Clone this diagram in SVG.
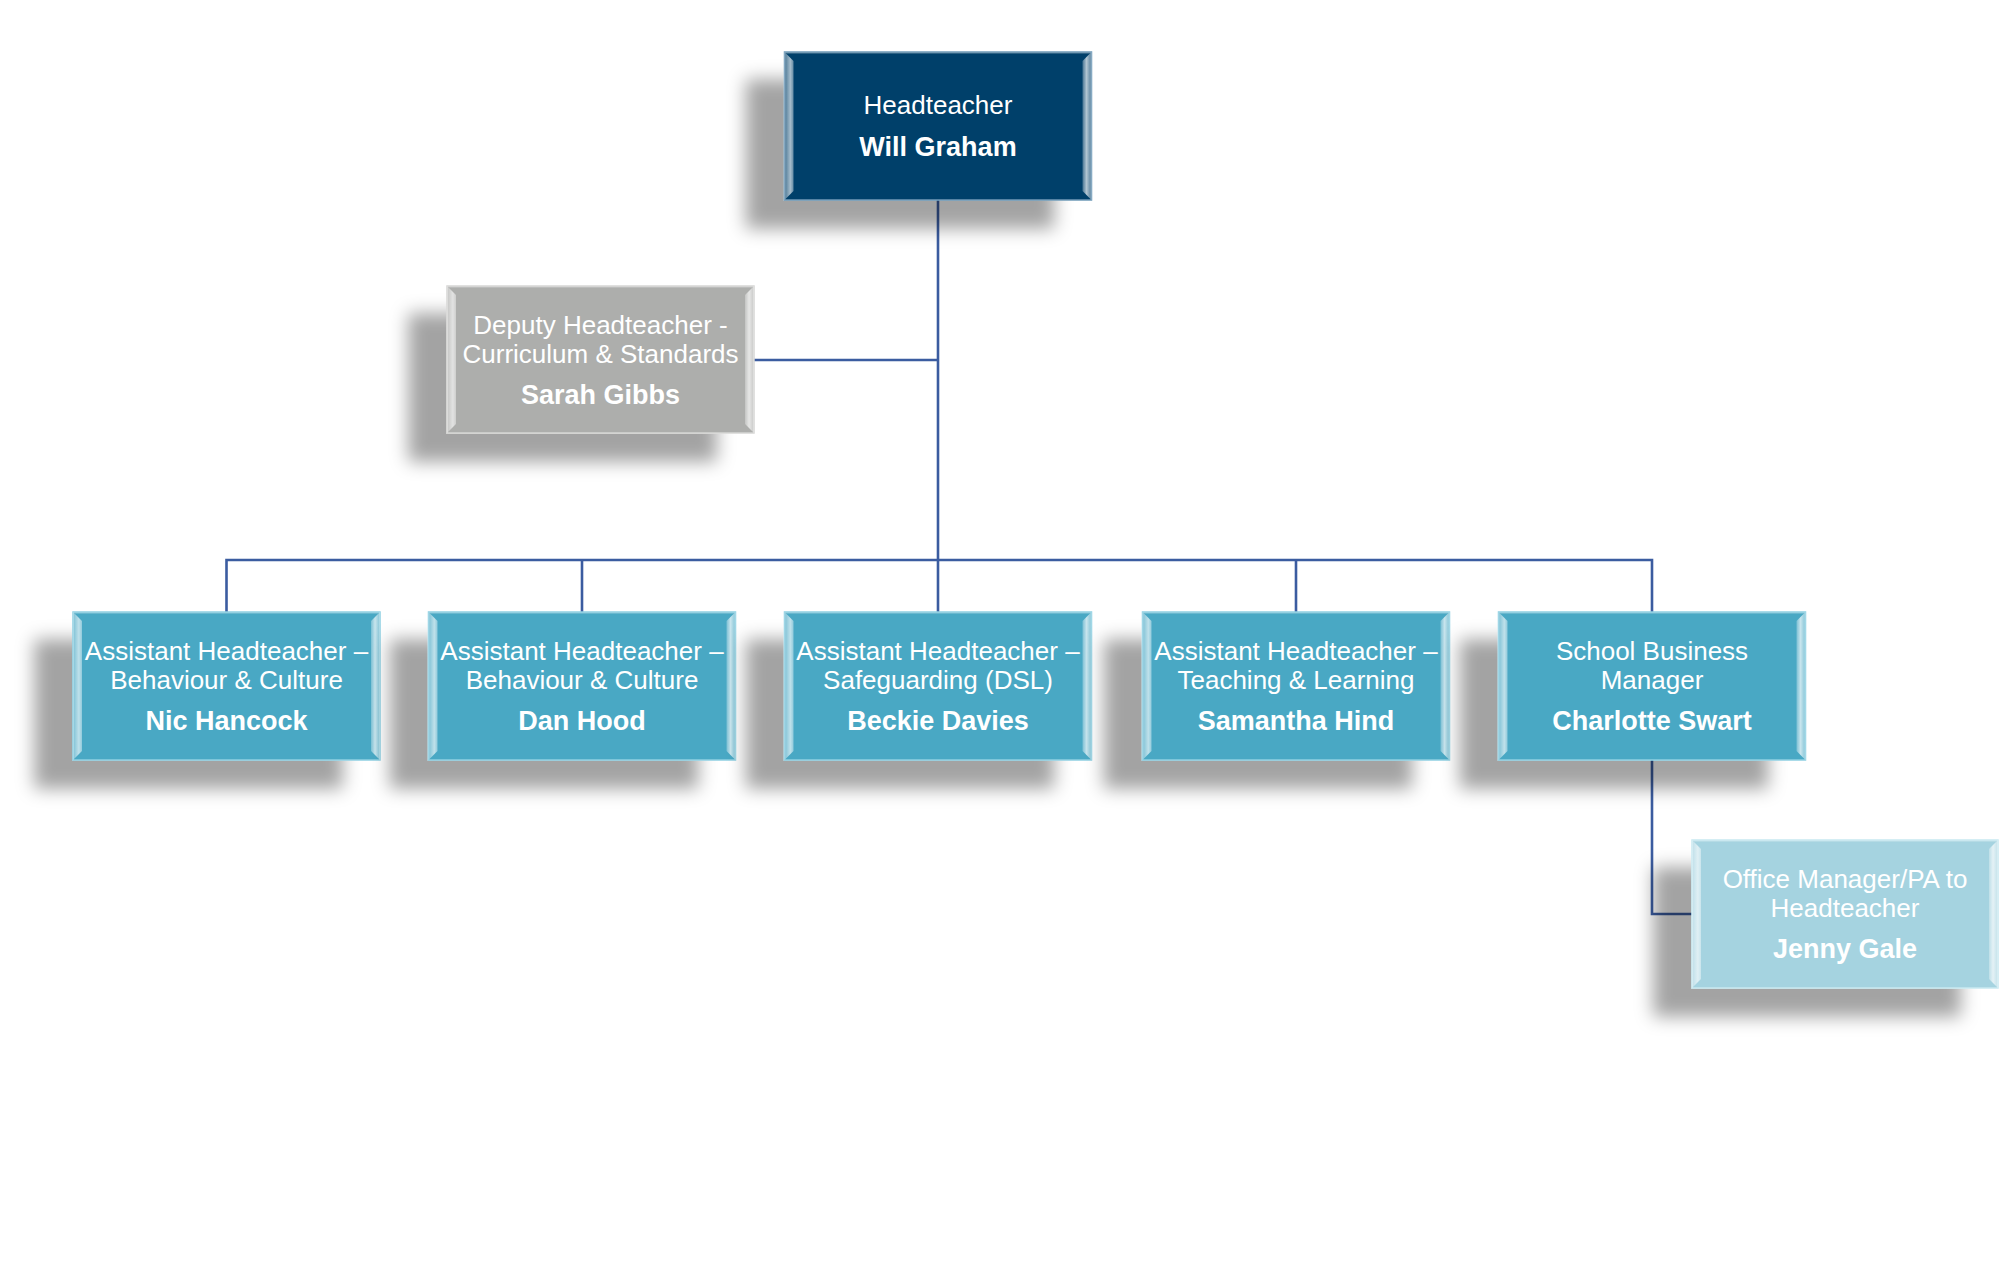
<svg xmlns="http://www.w3.org/2000/svg" width="2000" height="1280" viewBox="0 0 2000 1280">
<defs>
<filter id="sh" x="-30%" y="-30%" width="160%" height="170%">
<feDropShadow dx="-38" dy="28" stdDeviation="9" flood-color="#000" flood-opacity="0.36"/>
</filter>
<linearGradient id="bl" x1="0" y1="0" x2="1" y2="0">
<stop offset="0" stop-color="#fff" stop-opacity="0.28"/>
<stop offset="0.65" stop-color="#fff" stop-opacity="0.65"/>
<stop offset="1" stop-color="#fff" stop-opacity="0.4"/>
</linearGradient>
<linearGradient id="br" x1="0" y1="0" x2="1" y2="0">
<stop offset="0" stop-color="#fff" stop-opacity="0.28"/>
<stop offset="0.45" stop-color="#fff" stop-opacity="0.7"/>
<stop offset="1" stop-color="#fff" stop-opacity="0.32"/>
</linearGradient>
<style>
.box{filter:url(#sh);}
.navy{fill:#04416a;stroke:#6f9ab8;stroke-width:1.5;}
.gray{fill:#adaeac;stroke:#d6d6d5;stroke-width:1.5;}
.teal{fill:#4aa8c4;stroke:#8fd0e2;stroke-width:1.5;}
.pale{fill:#a5d3e0;stroke:#c8e9f1;stroke-width:1.5;}
.bvl{fill:url(#bl);}
.bvr{fill:url(#br);}
.bvt{fill:#fff;fill-opacity:0.18;}
.t{font-family:"Liberation Sans",Arial,sans-serif;font-size:26px;fill:#fff;text-anchor:middle;}
.n{font-family:"Liberation Sans",Arial,sans-serif;font-size:27px;font-weight:bold;fill:#fff;text-anchor:middle;}
.c{fill:none;stroke:#3b5ca0;stroke-width:2.6;}
</style>
</defs>

<g id="connectors">
<path class="c" d="M938,200 V612"/>
<path class="c" d="M754,360 H938"/>
<path class="c" d="M226.5,612 V560 H1652 V612"/>
<path class="c" d="M582,560 V612"/>
<path class="c" d="M1296,560 V612"/>
<path class="c" d="M1652,760 V914 H1692"/>
</g>

<g id="headteacher">
<rect class="box navy" x="784.5" y="52" width="307" height="148"/>
<polygon class="bvl" points="784.5,52 793.5,61 793.5,191 784.5,200"/>
<polygon class="bvr" points="1091.5,52 1082.5,61 1082.5,191 1091.5,200"/>
<polygon class="bvt" points="784.5,52 1091.5,52 1089.5,54 786.5,54"/>
<text class="t" x="938" y="114">Headteacher</text>
<text class="n" x="938" y="156">Will Graham</text>
</g>

<g id="deputy">
<rect class="box gray" x="447" y="286" width="307" height="147"/>
<polygon class="bvl" points="447,286 456,295 456,424 447,433"/>
<polygon class="bvr" points="754,286 745,295 745,424 754,433"/>
<polygon class="bvt" points="447,286 754,286 752,288 449,288"/>
<text class="t" x="600.5" y="333.5">Deputy Headteacher -</text>
<text class="t" x="600.5" y="362.5">Curriculum &amp; Standards</text>
<text class="n" x="600.5" y="403.5">Sarah Gibbs</text>
</g>

<g id="ah-nic">
<rect class="box teal" x="73" y="612" width="307" height="148"/>
<polygon class="bvl" points="73,612 82,621 82,751 73,760"/>
<polygon class="bvr" points="380,612 371,621 371,751 380,760"/>
<polygon class="bvt" points="73,612 380,612 378,614 75,614"/>
<text class="t" x="226.5" y="660">Assistant Headteacher –</text>
<text class="t" x="226.5" y="689">Behaviour &amp; Culture</text>
<text class="n" x="226.5" y="730">Nic Hancock</text>
</g>

<g id="ah-dan">
<rect class="box teal" x="428.5" y="612" width="307" height="148"/>
<polygon class="bvl" points="428.5,612 437.5,621 437.5,751 428.5,760"/>
<polygon class="bvr" points="735.5,612 726.5,621 726.5,751 735.5,760"/>
<polygon class="bvt" points="428.5,612 735.5,612 733.5,614 430.5,614"/>
<text class="t" x="582" y="660">Assistant Headteacher –</text>
<text class="t" x="582" y="689">Behaviour &amp; Culture</text>
<text class="n" x="582" y="730">Dan Hood</text>
</g>

<g id="ah-beckie">
<rect class="box teal" x="784.5" y="612" width="307" height="148"/>
<polygon class="bvl" points="784.5,612 793.5,621 793.5,751 784.5,760"/>
<polygon class="bvr" points="1091.5,612 1082.5,621 1082.5,751 1091.5,760"/>
<polygon class="bvt" points="784.5,612 1091.5,612 1089.5,614 786.5,614"/>
<text class="t" x="938" y="660">Assistant Headteacher –</text>
<text class="t" x="938" y="689">Safeguarding (DSL)</text>
<text class="n" x="938" y="730">Beckie Davies</text>
</g>

<g id="ah-samantha">
<rect class="box teal" x="1142.5" y="612" width="307" height="148"/>
<polygon class="bvl" points="1142.5,612 1151.5,621 1151.5,751 1142.5,760"/>
<polygon class="bvr" points="1449.5,612 1440.5,621 1440.5,751 1449.5,760"/>
<polygon class="bvt" points="1142.5,612 1449.5,612 1447.5,614 1144.5,614"/>
<text class="t" x="1296" y="660">Assistant Headteacher –</text>
<text class="t" x="1296" y="689">Teaching &amp; Learning</text>
<text class="n" x="1296" y="730">Samantha Hind</text>
</g>

<g id="sbm">
<rect class="box teal" x="1498.5" y="612" width="307" height="148"/>
<polygon class="bvl" points="1498.5,612 1507.5,621 1507.5,751 1498.5,760"/>
<polygon class="bvr" points="1805.5,612 1796.5,621 1796.5,751 1805.5,760"/>
<polygon class="bvt" points="1498.5,612 1805.5,612 1803.5,614 1500.5,614"/>
<text class="t" x="1652" y="660">School Business</text>
<text class="t" x="1652" y="689">Manager</text>
<text class="n" x="1652" y="730">Charlotte Swart</text>
</g>

<g id="office-manager">
<rect class="box pale" x="1692" y="840" width="306" height="148"/>
<polygon class="bvl" points="1692,840 1701,849 1701,979 1692,988"/>
<polygon class="bvr" points="1998,840 1989,849 1989,979 1998,988"/>
<polygon class="bvt" points="1692,840 1998,840 1996,842 1694,842"/>
<text class="t" x="1845" y="888">Office Manager/PA to</text>
<text class="t" x="1845" y="917">Headteacher</text>
<text class="n" x="1845" y="958">Jenny Gale</text>
</g>
</svg>
